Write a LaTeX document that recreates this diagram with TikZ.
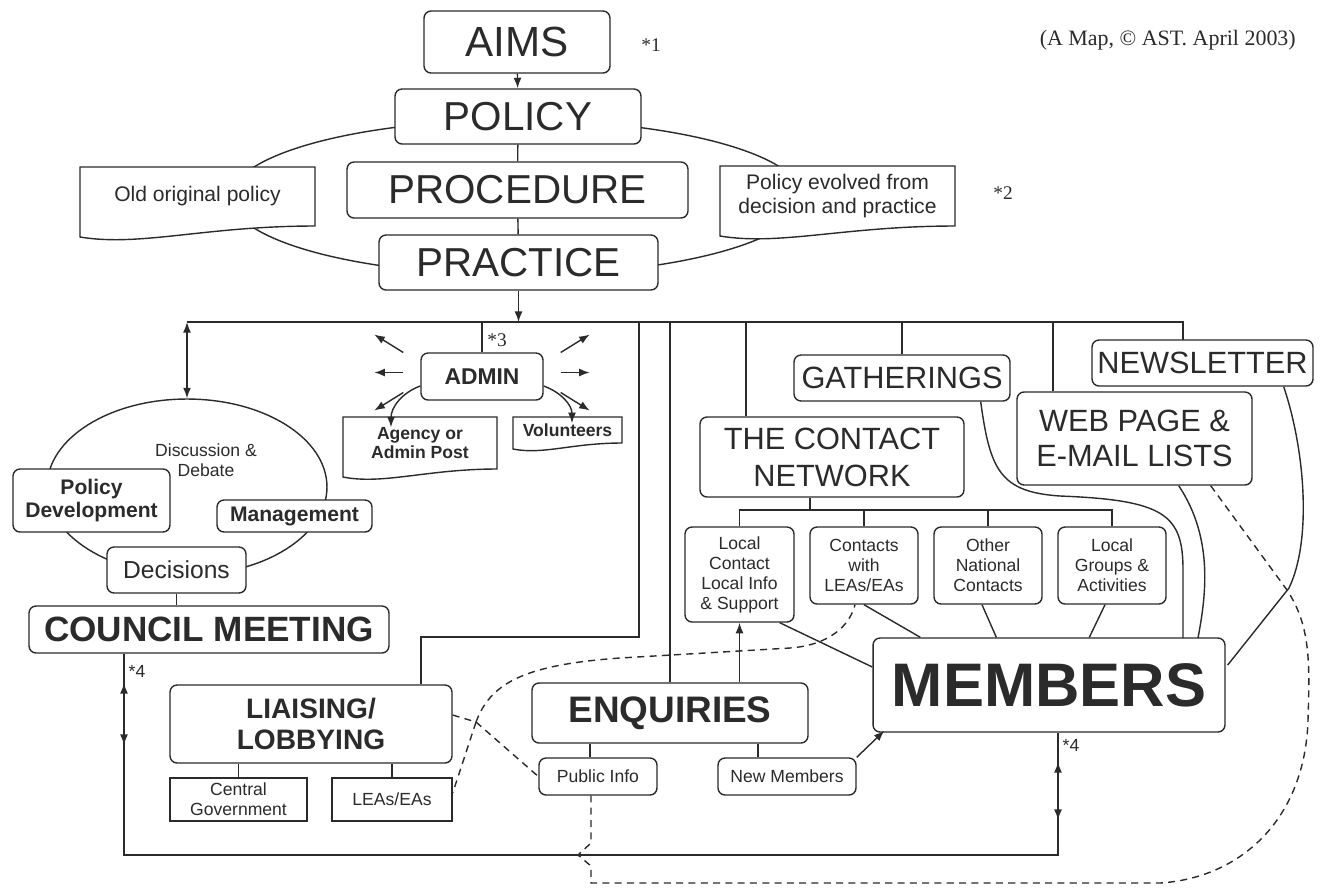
\documentclass[tikz,border=0pt]{standalone}
\usepackage{fontspec}
\setmainfont{Liberation Sans}
\newfontfamily\serifnote{Liberation Serif}
\usetikzlibrary{arrows.meta,shapes.geometric,calc,positioning}
\definecolor{ink}{HTML}{2B2B2B}

\begin{document}
\begin{tikzpicture}[x=0.02cm,y=-0.02cm,
  box/.style={draw=ink,fill=white,rounded corners=4pt,line width=0.8pt,inner sep=0pt,align=center,text=ink},
  sharpbox/.style={draw=ink,fill=white,line width=0.8pt,inner sep=0pt,align=center,text=ink},
  docbox/.style={inner sep=0pt,align=center,text=ink},
  link/.style={draw=ink,line width=0.8pt},
  dashlink/.style={link,dash pattern=on 4pt off 3pt},
  arr/.style={-{Latex[length=6pt,width=4.5pt]}},
  twoarr/.style={{Latex[length=6pt,width=4.5pt]}-{Latex[length=6pt,width=4.5pt]}},
  note/.style={text=ink,font=\serifnote\fontsize{11}{12}\selectfont}]
\useasboundingbox[fill=white] (0,0) rectangle (1321,887);

% the two rings
\node[ellipse,draw=ink,line width=0.8pt,inner sep=0pt,minimum width=11.44cm,minimum height=3.1cm] (ring) at (517,197.5) {};
\node[ellipse,draw=ink,line width=0.8pt,inner sep=0pt,minimum width=5.6cm,minimum height=3.52cm] (debate) at (187,487) {};

\node[box,minimum width=3.72cm,minimum height=1.24cm,font=\fontsize{24}{28}\selectfont] (aims) at (517,42) {AIMS};
\node[box,minimum width=4.92cm,minimum height=1.10cm,font=\fontsize{23}{27}\selectfont] (policy) at (518,116.5) {POLICY};
\node[box,minimum width=6.82cm,minimum height=1.12cm,font=\fontsize{23}{27}\selectfont] (procedure) at (517.5,190) {PROCEDURE};
\node[box,minimum width=5.58cm,minimum height=1.10cm,font=\fontsize{23}{27}\selectfont] (practice) at (518.5,262.5) {PRACTICE};

\coordinate (oldNW) at (80,167); \coordinate (oldSE) at (315,226);
\draw[link,fill=white] (oldNW) -| (oldSE) .. controls +(-110,0) and +(60,10) .. ($(oldSE-|oldNW)+(0,11)$) -- cycle;
\node[docbox,font=\fontsize{12}{13.5}\selectfont] (old) at ($(oldNW)!0.5!(oldSE)$) {Old original policy};
\coordinate (evoNW) at (720,166); \coordinate (evoSE) at (955,226);
\draw[link,fill=white] (evoNW) -| (evoSE) .. controls +(-110,0) and +(60,10) .. ($(evoSE-|evoNW)+(0,10)$) -- cycle;
\node[docbox,font=\fontsize{12}{13.5}\selectfont] (evolved) at ($(evoNW)!0.5!(evoSE)$) {Policy evolved from\\decision and practice};

\node[note] (n1) at (651,45) {*1};
\node[note] (n2) at (1003,193) {*2};
\node[anchor=east,text=ink,font=\serifnote\fontsize{12.5}{14}\selectfont] (credit) at (1302,40) {(A Map, © AST. April 2003)};

\draw[link,arr] (aims) -- (policy);
\draw[link] (policy) -- (procedure) -- (practice);

% distribution line
\coordinate (busL) at (187,322);
\coordinate (busR) at (1183,322);
\draw[link] (busL) -- (busR) -- (busR |- 0,340);
\draw[link,arr] (practice) -- (practice |- busL);
\draw[link,twoarr] (busL) -- (debate.north);

% admin
\node[box,minimum width=2.44cm,minimum height=0.94cm,font=\fontsize{13}{15}\selectfont\bfseries] (admin) at (482,376.5) {ADMIN};
\node[note] (n3) at (497,340) {*3};
\draw[link] (admin.north) -- (admin.north |- busL);
\coordinate (agNW) at (343,417); \coordinate (agSE) at (497,469);
\draw[link,fill=white] (agNW) -| (agSE) .. controls +(-70,0) and +(40,8) .. ($(agSE-|agNW)+(0,8)$) -- cycle;
\node[docbox,font=\fontsize{10}{10.5}\selectfont\bfseries] (agency) at ($(agNW)!0.5!(agSE)$) {Agency or\\Admin Post};
\coordinate (voNW) at (513,417); \coordinate (voSE) at (622,443);
\draw[link,fill=white] (voNW) -| (voSE) .. controls +(-50,0) and +(30,6) .. ($(voSE-|voNW)+(0,6)$) -- cycle;
\node[docbox,font=\fontsize{10}{11}\selectfont\bfseries] (volunteers) at ($(voNW)!0.5!(voSE)$) {Volunteers};
\foreach \a/\b in {-24/-42,-4/-4,16/34}{
  \draw[link,arr] ($(admin.west)+(-17,\a)$) -- ($(admin.west)+(-46,\b)$);
  \draw[link,arr] ($(admin.east)+(17,\a)$) -- ($(admin.east)+(46,\b)$);
}
\draw[link,arr] ([yshift=-0.19cm]admin.west) to[out=200,in=90] ([xshift=-0.58cm]agency.north);
\draw[link,arr] ([yshift=-0.19cm]admin.east) to[out=-20,in=90] ([xshift=0.09cm]volunteers.north);

% council side
\node[text=ink,align=center,font=\fontsize{10}{11.5}\selectfont] (debtext) at (206,460) {Discussion \&\\Debate};
\node[box,minimum width=3.14cm,minimum height=1.26cm,font=\fontsize{12}{13.5}\selectfont\bfseries] (poldev) at (91.5,500.5) {Policy\\Development};
\node[box,minimum width=3.10cm,minimum height=0.64cm,font=\fontsize{12}{13.5}\selectfont\bfseries] (mgmt) at (294.5,516) {Management};
\node[box,minimum width=2.78cm,minimum height=0.92cm,font=\fontsize{14}{16}\selectfont] (decisions) at (176.5,570) {Decisions};
\node[box,minimum width=7.20cm,minimum height=0.94cm,font=\fontsize{20}{23}\selectfont\bfseries] (council) at (209,629.5) {COUNCIL MEETING};
\draw[link] (decisions.south) -- (decisions.south |- council.north);
\node[text=ink,font=\fontsize{10}{11}\selectfont] (n4a) at (137,671) {*4};

% liaising
\node[box,minimum width=5.64cm,minimum height=1.56cm,font=\fontsize{16}{18}\selectfont\bfseries] (liaising) at (311,724) {LIAISING/\\LOBBYING};
\node[sharpbox,minimum width=2.74cm,minimum height=0.86cm,font=\fontsize{10}{11.4}\selectfont] (central) at (238.5,799.5) {Central\\Government};
\node[sharpbox,minimum width=2.40cm,minimum height=0.86cm,font=\fontsize{10}{11.4}\selectfont] (leas) at (392,799.5) {LEAs/EAs};
\draw[link] (central.north) -- (central.north |- liaising.south);
\draw[link] (leas.north) -- (leas.north |- liaising.south);
\coordinate (lobTop) at (639,322);
\coordinate (lobTurn) at (421,637);
\draw[link] (lobTop) -- (lobTop |- lobTurn) -- (lobTurn) -- (lobTurn |- liaising.north);

% enquiries
\node[box,minimum width=5.52cm,minimum height=1.20cm,font=\fontsize{21}{24}\selectfont\bfseries] (enquiries) at (670,713) {ENQUIRIES};
\node[box,minimum width=2.36cm,minimum height=0.74cm,font=\fontsize{10}{11}\selectfont] (pubinfo) at (598,776.5) {Public Info};
\node[box,minimum width=2.76cm,minimum height=0.74cm,font=\fontsize{10}{11}\selectfont] (newmem) at (787,776.5) {New Members};
\draw[link] ([xshift=-0.16cm]pubinfo.north) -- ([xshift=-0.16cm]pubinfo.north |- enquiries.south);
\draw[link] ([xshift=-0.58cm]newmem.north) -- ([xshift=-0.58cm]newmem.north |- enquiries.south);
\draw[link] (enquiries.north) -- (enquiries.north |- busL);

% contact network
\node[box,minimum width=4.32cm,minimum height=0.92cm,font=\fontsize{17.5}{20}\selectfont] (gatherings) at (902,378) {GATHERINGS};
\node[box,minimum width=4.42cm,minimum height=0.92cm,font=\fontsize{17.5}{20}\selectfont] (newsletter) at (1202.5,363) {NEWSLETTER};
\node[box,minimum width=4.70cm,minimum height=1.86cm,font=\fontsize{17.5}{20}\selectfont] (webpage) at (1134.5,438.5) {WEB PAGE \&\\E-MAIL LISTS};
\node[box,minimum width=5.28cm,minimum height=1.60cm,font=\fontsize{17.5}{21}\selectfont] (network) at (832,457) {THE CONTACT\\NETWORK};
\coordinate (netTap) at (746,322);
\coordinate (webTap) at (1053,322);
\draw[link] (netTap) -- (netTap |- network.north);
\draw[link] (gatherings.north) -- (gatherings.north |- busL);
\draw[link] (webTap) -- (webTap |- webpage.north);

\node[box,minimum width=2.18cm,minimum height=1.90cm,font=\fontsize{10}{11.4}\selectfont] (local) at (739.5,574.5) {Local\\Contact\\Local Info\\\& Support};
\node[box,minimum width=2.16cm,minimum height=1.54cm,font=\fontsize{10}{11.4}\selectfont] (contacts) at (864,565.5) {Contacts\\with\\LEAs/EAs};
\node[box,minimum width=2.16cm,minimum height=1.54cm,font=\fontsize{10}{11.4}\selectfont] (national) at (988,565.5) {Other\\National\\Contacts};
\node[box,minimum width=2.16cm,minimum height=1.54cm,font=\fontsize{10}{11.4}\selectfont] (groups) at (1112,565.5) {Local\\Groups \&\\Activities};
\coordinate (netFork) at (810,510);
\draw[link] (netFork |- network.south) -- (netFork);
\draw[link] (local.north) -- (local.north |- netFork) -- (groups.north |- netFork) -- (groups.north);
\draw[link] (contacts.north) -- (contacts.north |- netFork);
\draw[link] (national.north) -- (national.north |- netFork);
\draw[link,arr] (enquiries.north -| local.south) -- (local.south);

% members
\node[box,minimum width=7.04cm,minimum height=1.88cm,font=\fontsize{35}{40}\selectfont\bfseries] (members) at (1049,685) {MEMBERS};
\node[text=ink,font=\fontsize{10}{11}\selectfont] (n4b) at (1071,745) {*4};
\draw[link] ([xshift=-0.3cm]local.south east) -- ([yshift=0.36cm]members.west);
\draw[link] (contacts.south) -- ($(members.north west)+(48,0)$);
\draw[link] ($(national.south)+(-6,0)$) -- ($(members.north west)+(124,0)$);
\draw[link] ($(groups.south)+(-7,0)$) -- ($(members.north west)+(217,0)$);
\draw[link] ($(gatherings.south east)+(-30,0)$) .. controls (990,470) and (1000,492) .. (1060,496) .. controls (1165,500) and (1183,515) .. (1183,570) -- (1183,638);
\draw[link] ($(webpage.south east)+(-74,0)$) .. controls (1215,540) and (1205,600) .. (1198,638);
\draw[link] ($(newsletter.south east)+(-30,0)$) .. controls (1305,450) and (1312,540) .. (1289,588) -- ($(members.east)+(2,-20)$);
\draw[link,arr] (newmem.north east) -- ($(members.south west)+(12,-2)$);

% two-way loop between council and members
\coordinate (loopL) at (124,855);
\coordinate (loopR) at (1058,855);
\draw[link] (council.south -| loopL) -- (loopL) -- (loopR) -- (members.south -| loopR);
\coordinate (cmUp) at (124,683); \coordinate (cmDown) at (124,745);
\draw[link,twoarr] (cmUp) -- (cmDown);
\coordinate (mbUp) at (1058,762); \coordinate (mbDown) at (1058,820);
\draw[link,twoarr] (mbUp) -- (mbDown);

% dashed information links
\coordinate (dashFork) at (476,722);
\draw[dashlink] ([yshift=0.18cm]liaising.east) -- (dashFork);
\draw[dashlink] (dashFork) -- ([yshift=0.13cm]leas.east);
\draw[dashlink] (dashFork) -- (pubinfo.west);
\draw[dashlink] (dashFork) .. controls (490,685) and (520,665) .. (620,658) -- (790,648) .. controls (830,645) and (850,625) .. ([xshift=-0.18cm]contacts.south);
\coordinate (dashDrop) at (591,883);
\draw[dashlink] ($(webpage.south east)+(-42,0)$) -- (1287,590) .. controls (1310,625) and (1310,660) .. (1308,720) .. controls (1305,820) and (1240,878) .. (1160,883) -- (dashDrop) -- (591,866) -- (578,855) -- (591,843) -- (pubinfo.south -| dashDrop);
\end{tikzpicture}
\end{document}
